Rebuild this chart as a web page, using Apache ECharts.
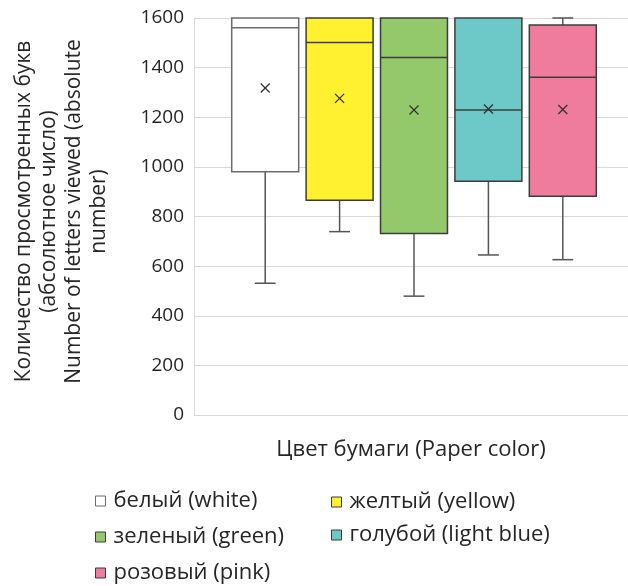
<!DOCTYPE html>
<html>
<head>
<meta charset="utf-8">
<script src="https://cdn.jsdelivr.net/npm/echarts@6/dist/echarts.min.js"></script>
<style>
  html, body { margin: 0; padding: 0; background: #ffffff; }
  #chart { width: 628px; height: 586px; }
</style>
</head>
<body>
<div id="chart"></div>
<script>
// Paper colours and the box-plot statistics for each of them
const categories = ['белый (white)', 'желтый (yellow)', 'зеленый (green)', 'голубой (light blue)', 'розовый (pink)'];
const whiskerLow  = [531, 739, 479, 645, 626];
const quartile1   = [980, 865, 731, 942, 882];
const medians     = [1561, 1501, 1441, 1229, 1361];
const quartile3   = [1600, 1600, 1600, 1600, 1572];
const whiskerHigh = [1600, 1600, 1600, 1600, 1600];
const means       = [1318, 1276, 1229, 1233, 1231];
const yTicks      = { min: 0, max: 1600, step: 200 };

const fillColors   = ['#ffffff', '#fff030', '#93c96b', '#6dc9c8', '#f07c9d'];
const borderColors = ['#6b6b6b', '#3c3c3c', '#3c3c3c', '#3c3c3c', '#3c3c3c'];

const FONT = 'Open Sans';
const TEXT = '#262626';
const GRID_LINE = '#d9d9d9';
const WHISKER = '#555555';

const chart = echarts.init(document.getElementById('chart'), null, { renderer: 'canvas' });

function renderBox(params, api) {
  const idx = api.value(0);
  const low = api.value(1), q1 = api.value(2), med = api.value(3);
  const q3 = api.value(4), high = api.value(5), mean = api.value(6);
  const band = api.size([1, 0])[0];
  const boxW = band * 0.9;
  const capW = band * 0.28;
  const cx = api.coord([idx, 0])[0];
  const yOf = v => api.coord([idx, v])[1];
  const stroke = borderColors[params.seriesIndex];
  const fill = fillColors[params.seriesIndex];
  const lineStyle = { stroke: WHISKER, lineWidth: 1.5 };
  const children = [];

  // lower whisker and its cap
  children.push({ type: 'line', shape: { x1: cx, y1: yOf(q1), x2: cx, y2: yOf(low) }, style: lineStyle });
  children.push({ type: 'line', shape: { x1: cx - capW / 2, y1: yOf(low), x2: cx + capW / 2, y2: yOf(low) }, style: lineStyle });
  // upper whisker, only where it reaches past the box
  if (high > q3) {
    children.push({ type: 'line', shape: { x1: cx, y1: yOf(q3), x2: cx, y2: yOf(high) }, style: lineStyle });
    children.push({ type: 'line', shape: { x1: cx - capW / 2, y1: yOf(high), x2: cx + capW / 2, y2: yOf(high) }, style: lineStyle });
  }
  // interquartile box
  children.push({
    type: 'rect',
    shape: { x: cx - boxW / 2, y: yOf(q3), width: boxW, height: yOf(q1) - yOf(q3) },
    style: { fill: fill, stroke: stroke, lineWidth: 1.5 }
  });
  // median
  children.push({
    type: 'line',
    shape: { x1: cx - boxW / 2, y1: yOf(med), x2: cx + boxW / 2, y2: yOf(med) },
    style: { stroke: stroke, lineWidth: 1.5 }
  });
  // mean marker (x)
  const my = yOf(mean), r = 4.5;
  children.push({ type: 'line', shape: { x1: cx - r, y1: my - r, x2: cx + r, y2: my + r }, style: { stroke: '#333333', lineWidth: 1.3 } });
  children.push({ type: 'line', shape: { x1: cx - r, y1: my + r, x2: cx + r, y2: my - r }, style: { stroke: '#333333', lineWidth: 1.3 } });

  return { type: 'group', children: children };
}

const series = categories.map((name, i) => ({
  type: 'custom',
  name: name,
  xAxisIndex: 1,
  yAxisIndex: 1,
  itemStyle: { color: fillColors[i] },
  renderItem: renderBox,
  encode: { x: 0, y: [1, 2, 3, 4, 5, 6] },
  data: [[i, whiskerLow[i], quartile1[i], medians[i], quartile3[i], whiskerHigh[i], means[i]]],
  silent: true,
  z: 3
}));

// two-column legend: left column at 95px, right column at 331px; rows given by their centre line
const LEGEND_ROW = 26;
const legendPlaces = [
  { left: 95, mid: 501 },
  { left: 331, mid: 502 },
  { left: 95, mid: 537 },
  { left: 331, mid: 535 },
  { left: 95, mid: 573 }
];
const legends = categories.map((name, i) => ({
  data: [name],
  left: legendPlaces[i].left,
  top: legendPlaces[i].mid - LEGEND_ROW / 2,
  padding: 0,
  icon: 'rect',
  itemWidth: 10,
  itemHeight: 10,
  selectedMode: false,
  itemStyle: { borderColor: borderColors[i], borderWidth: 1 },
  textStyle: { fontFamily: FONT, fontSize: 22, color: TEXT, lineHeight: LEGEND_ROW, padding: [0, 0, 0, 3] }
}));

chart.setOption({
  animation: false,
  backgroundColor: '#ffffff',
  textStyle: { fontFamily: FONT },
  grid: [
    { left: 194, top: 18, width: 441, height: 397 },
    { left: 228, top: 18, width: 372, height: 397 }
  ],
  xAxis: [
    {
      gridIndex: 0,
      type: 'category',
      data: [''],
      axisLine: { show: true, lineStyle: { color: GRID_LINE, width: 1 } },
      axisTick: { show: false },
      axisLabel: { show: false },
      name: 'Цвет бумаги (Paper color)',
      nameLocation: 'middle',
      nameGap: 22,
      nameTextStyle: { fontFamily: FONT, fontSize: 22, color: TEXT, lineHeight: 26 }
    },
    {
      gridIndex: 1,
      type: 'category',
      data: categories,
      show: false
    }
  ],
  yAxis: [
    {
      gridIndex: 0,
      type: 'value',
      min: yTicks.min,
      max: yTicks.max,
      interval: yTicks.step,
      axisLine: { show: true, lineStyle: { color: GRID_LINE, width: 1 } },
      axisTick: { show: false },
      splitLine: { show: true, lineStyle: { color: GRID_LINE, width: 1 } },
      axisLabel: { fontFamily: FONT, fontSize: 19, color: TEXT, margin: 10, formatter: v => String(v) },
      name: 'Количество просмотренных букв\n(абсолютное число)\nNumber of letters viewed (absolute\nnumber)',
      nameLocation: 'middle',
      nameGap: 82,
      nameTextStyle: { fontFamily: FONT, fontSize: 21, color: TEXT, lineHeight: 25, align: 'center', padding: [0, 0, 0, 10] }
    },
    {
      gridIndex: 1,
      type: 'value',
      min: yTicks.min,
      max: yTicks.max,
      show: false,
      splitLine: { show: false }
    }
  ],
  legend: legends,
  series: series
});
</script>
</body>
</html>
